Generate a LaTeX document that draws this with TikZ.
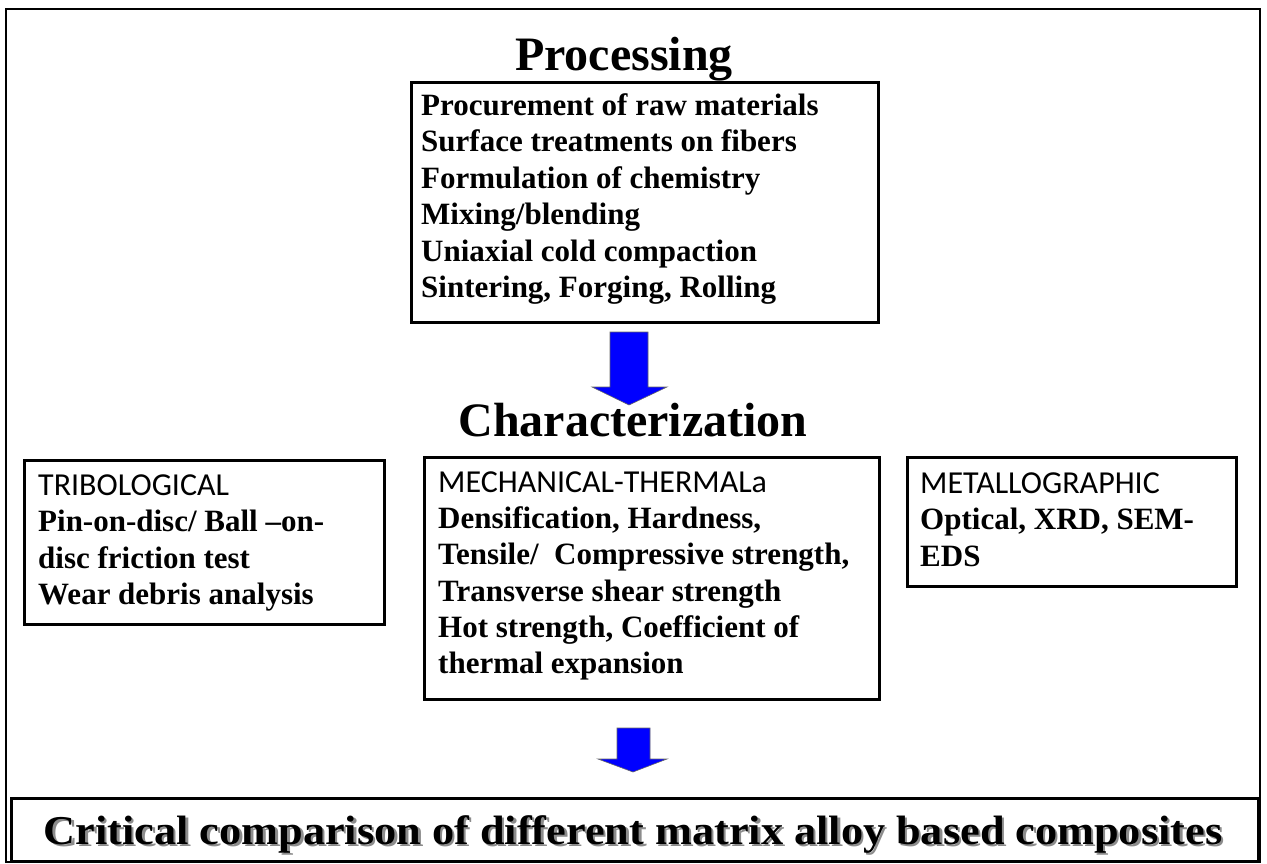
\documentclass[tikz,border=0pt]{standalone}
\usepackage{fontspec}
\setmainfont{Liberation Serif}
\newfontfamily\calfont{Carlito}
\begin{document}
\begin{tikzpicture}[x=1pt,y=-1pt,
  box/.style={draw=black,line width=2.5pt,anchor=north west,inner sep=0pt},
  body/.style={anchor=north west,inner sep=0pt,align=left,font=\fontsize{31}{36.4}\selectfont\bfseries},
  head/.style={font=\fontsize{32}{36.4}\selectfont\calfont\mdseries},
  title/.style={font=\fontsize{48}{48}\selectfont\bfseries,inner sep=0pt,anchor=base},
  finalfont/.style={font=\fontsize{41}{41}\selectfont\bfseries,anchor=base,inner sep=0pt},
  blockarrow/.style={fill=blue,draw=black!60,line width=0.6pt,line join=miter}]
\useasboundingbox (0,0) rectangle (1267,863);
\fill[white] (0,0) rectangle (1267,863);
\draw[line width=2pt] (6,9) rectangle (1260,862);

% Processing
\node[title] (proc) at (624,70) {Processing};
\node[box,minimum width=467pt,minimum height=240pt] (procbox) at (410,81) {};
\node[body] (proctext) at (421,93.5) {Procurement of raw materials\\
Surface treatments on fibers\\
Formulation of chemistry\\
Mixing/blending\\
Uniaxial cold compaction\\
Sintering, Forging, Rolling};

% arrow 1 (Processing -> Characterization)
\path[blockarrow] (610,332) -- (648,332) -- (648,387) -- (667,387) -- (629,405) -- (592,387) -- (610,387) -- cycle;

% Characterization
\node[title] (char) at (633,436) {Characterization};

% Tribological
\node[box,minimum width=360pt,minimum height=164pt] (tribox) at (23,459) {};
\node[body] (tritext) at (38,474.5) {{\fontsize{32}{36.4}\selectfont\calfont\mdseries TRIBOLOGICAL}\\
Pin-on-disc/ Ball –on-\\
disc friction test\\
Wear debris analysis};

% Mechanical
\node[box,minimum width=455pt,minimum height=242pt] (mechbox) at (423,456) {};
\node[body,font=\fontsize{31}{36.2}\selectfont\bfseries] (mechtext) at (438,471.5) {{\fontsize{32}{36.2}\selectfont\calfont\mdseries MECHANICAL-THERMALa}\\
Densification, Hardness,\\
Tensile/~ Compressive strength,\\
Transverse shear strength\\
Hot strength, Coefficient of\\
thermal expansion};

% Metallographic
\node[box,minimum width=329pt,minimum height=129pt] (metbox) at (906,456) {};
\node[body] (mettext) at (920,472.5) {{\fontsize{32}{36.4}\selectfont\calfont\mdseries METALLOGRAPHIC}\\
Optical, XRD, SEM-\\
EDS};

% arrow 2 (Characterization -> final)
\path[blockarrow] (617,728) -- (650,728) -- (650,759) -- (667,759) -- (633,772) -- (598,759) -- (617,759) -- cycle;

% Final
\node[box,minimum width=1247pt,minimum height=63pt] (finalbox) at (10,797) {};
\node[finalfont,text=black!45] (finalshadow) at (635.5,846.5) {\scalebox{1.08}[1]{Critical comparison of different matrix alloy based composites}};
\node[finalfont] (final) at (633,844) {\scalebox{1.08}[1]{Critical comparison of different matrix alloy based composites}};
\end{tikzpicture}
\end{document}
